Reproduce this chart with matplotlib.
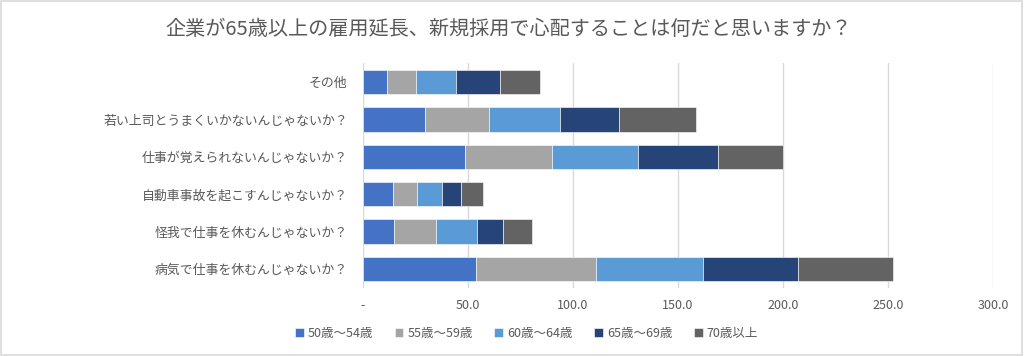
import matplotlib
matplotlib.use("Agg")
import matplotlib.pyplot as plt
from matplotlib.patches import Rectangle
import numpy as np

plt.rcParams['font.family'] = ['Noto Sans CJK JP', 'DejaVu Sans']

categories = [
    "その他",
    "若い上司とうまくいかないんじゃないか？",
    "仕事が覚えられないんじゃないか？",
    "自動車事故を起こすんじゃないか？",
    "怪我で仕事を休むんじゃないか？",
    "病気で仕事を休むんじゃないか？",
]
series_names = ["50歳～54歳", "55歳～59歳", "60歳～64歳", "65歳～69歳", "70歳以上"]
s50_54 = [11.5, 29.7, 48.6, 14.3, 14.6, 53.8]
s55_59 = [13.5, 30.2, 41.3, 11.4, 20.1, 57.3]
s60_64 = [19.5, 33.7, 40.9, 11.9, 19.7, 50.7]
s65_69 = [20.5, 28.5, 38.2, 9.2, 12.2, 45.3]
s70 = [19.5, 36.7, 31.0, 10.5, 13.7, 45.4]
xticks = [0, 50, 100, 150, 200, 250, 300]
xticklabels = ["-", "50.0", "100.0", "150.0", "200.0", "250.0", "300.0"]

colors = ["#4472C4", "#A5A5A5", "#5B9BD5", "#264478", "#636363"]
text_color = "#595959"

fig = plt.figure(figsize=(10.24, 3.56), dpi=100)
ax = fig.add_axes([363/1024, 1 - 287.7/356, 630/1024, 224.4/356])

n = len(categories)
ypos = np.arange(n)[::-1]
left = np.zeros(n)
all_series = [s50_54, s55_59, s60_64, s65_69, s70]
for name, vals, c in zip(series_names, all_series, colors):
    vals = np.array(vals)
    ax.barh(ypos, vals, left=left, height=0.65, color=c, label=name,
            edgecolor="white", linewidth=0.4, zorder=3)
    left += vals

ax.set_xlim(0, 300)
ax.set_ylim(-0.5, n - 0.5)
ax.set_xticks(xticks)
ax.set_xticklabels(xticklabels, fontsize=9, color=text_color)
ax.set_yticks(ypos)
ax.set_yticklabels(categories, fontsize=9.3, color=text_color)
ax.tick_params(axis='both', length=0)
ax.tick_params(axis='y', pad=11)
ax.tick_params(axis='x', pad=8)
for s in ax.spines.values():
    s.set_visible(False)
ax.xaxis.grid(True, color="#D9D9D9", linewidth=1, zorder=0)
ax.set_axisbelow(True)

fig.text(0.497, 1 - 29/356, "企業が65歳以上の雇用延長、新規採用で心配することは何だと思いますか？",
         ha='center', va='center', fontsize=14.5, color=text_color)

leg = fig.legend(loc='center', bbox_to_anchor=(0.514, 1 - 333/356), ncol=5,
                 frameon=False, fontsize=9, handlelength=0.7, handleheight=0.7,
                 handletextpad=0.3, columnspacing=1.75)
for t in leg.get_texts():
    t.set_color(text_color)

fig.patches.append(Rectangle((0.001, 0.002), 0.997, 0.995, transform=fig.transFigure,
                             fill=False, edgecolor="#D9D9D9", linewidth=1.2))

fig.savefig("out.png", dpi=100)
